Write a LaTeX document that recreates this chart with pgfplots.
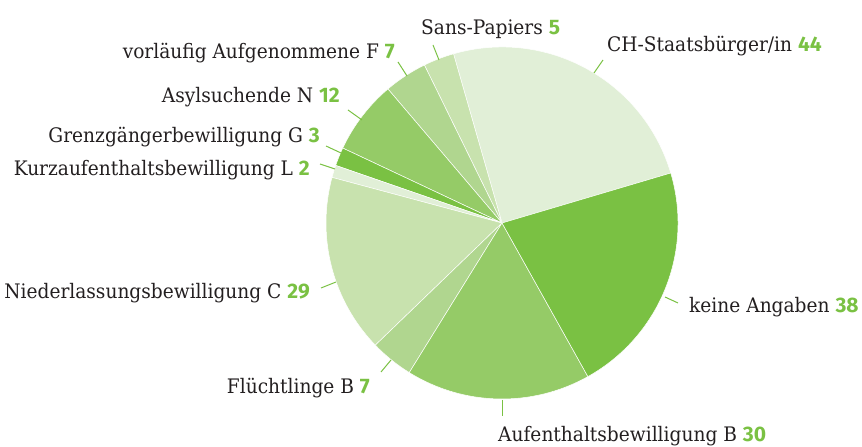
\documentclass[border=0pt]{standalone}
\usepackage{pgfplots}
\pgfplotsset{compat=1.18}
\usepackage{pgfplotstable}
\usepackage{fontspec}
\setmainfont{DejaVu Serif}[FakeStretch=0.93]
\newfontfamily\numfont{Fira Sans}
\definecolor{txt}{HTML}{231F20}
\definecolor{numgreen}{HTML}{7AC143}
\definecolor{pie0}{HTML}{E1EFD7}
\definecolor{pie1}{HTML}{C8E2AE}
\definecolor{pie2}{HTML}{B0D68F}
\definecolor{pie3}{HTML}{95CB67}
\definecolor{pie4}{HTML}{7AC143}
\definecolor{pie5}{HTML}{E1EFD7}
\definecolor{pie6}{HTML}{C8E2AE}
\definecolor{pie7}{HTML}{B0D68F}
\definecolor{pie8}{HTML}{95CB67}
\definecolor{pie9}{HTML}{7AC143}
% counter-clockwise from 16.5 degrees
\pgfplotstableread{
label value
CH 44
SansPapiers 5
F 7
N 12
G 3
L 2
C 29
Fluechtlinge 7
B 30
keine 38
}\piedata
\newcommand{\lab}[2]{#1 {\numfont\bfseries\fontsize{21bp}{24bp}\selectfont\color{numgreen}#2}}
\begin{document}
\begin{tikzpicture}
\begin{axis}[
  width=862bp, height=445bp, scale only axis,
  xmin=0, xmax=862, ymin=0, ymax=445,
  hide axis, clip=false,
]
\path (axis cs:0,0) rectangle (axis cs:862,445);
\pgfplotstablegetrowsof{\piedata}
\pgfmathtruncatemacro\nrows{\pgfplotsretval-1}
\def\total{0}
\pgfplotsforeachungrouped \i in {0,...,\nrows}{%
  \pgfplotstablegetelem{\i}{value}\of\piedata
  \pgfmathsetmacro\total{\total+\pgfplotsretval}%
}
\def\curang{16.5}
\pgfplotsforeachungrouped \i in {0,...,\nrows}{%
  \pgfplotstablegetelem{\i}{value}\of\piedata
  \pgfmathsetmacro\endang{\curang+\pgfplotsretval*360/\total}%
  \edef\temp{\noexpand\fill[fill=pie\i, draw=white, line width=0.5bp, line join=round]
    (axis cs:502,222) -- ++(\curang:176bp) arc[start angle=\curang, end angle=\endang, radius=176bp] -- cycle;}%
  \temp
  \global\let\curang\endang
}
% leader lines
\begin{scope}[numgreen, line width=1bp]
\draw (axis cs:433,400) -- (axis cs:439,385);
\draw (axis cs:603,385) -- (axis cs:594,372);
\draw (axis cs:398,383) -- (axis cs:407,369);
\draw (axis cs:348,335) -- (axis cs:362,325);
\draw (axis cs:326,299) -- (axis cs:341,292);
\draw (axis cs:320,281) -- (axis cs:335,276);
\draw (axis cs:321,157) -- (axis cs:336,163);
\draw (axis cs:381,73) -- (axis cs:391,85);
\draw (axis cs:665,148) -- (axis cs:678,142);
\draw (axis cs:502,45) -- (axis cs:502,29);
\end{scope}
\begin{scope}[every node/.style={inner sep=0pt, text=txt, font=\fontsize{20bp}{24bp}\selectfont}]
\node[anchor=base west] at (axis cs:421,410) {\lab{Sans-Papiers}{5}};
\node[anchor=base west] at (axis cs:607,393) {\lab{CH-Staatsbürger/in}{44}};
\node[anchor=base east] at (axis cs:395,386) {\lab{vorläufig Aufgenommene F}{7}};
\node[anchor=base east] at (axis cs:340,342) {\lab{Asylsuchende N}{12}};
\node[anchor=base east] at (axis cs:320,302) {\lab{Grenzgängerbewilligung G}{3}};
\node[anchor=base east] at (axis cs:310,269) {\lab{Kurzaufenthaltsbewilligung L}{2}};
\node[anchor=base east] at (axis cs:310,146) {\lab{Niederlassungsbewilligung C}{29}};
\node[anchor=base east] at (axis cs:370,51) {\lab{Flüchtlinge B}{7}};
\node[anchor=base west] at (axis cs:689,132) {\lab{keine Angaben}{38}};
\node[anchor=base west] at (axis cs:498,3) {\lab{Aufenthaltsbewilligung B}{30}};
\end{scope}
\end{axis}
\end{tikzpicture}
\end{document}
